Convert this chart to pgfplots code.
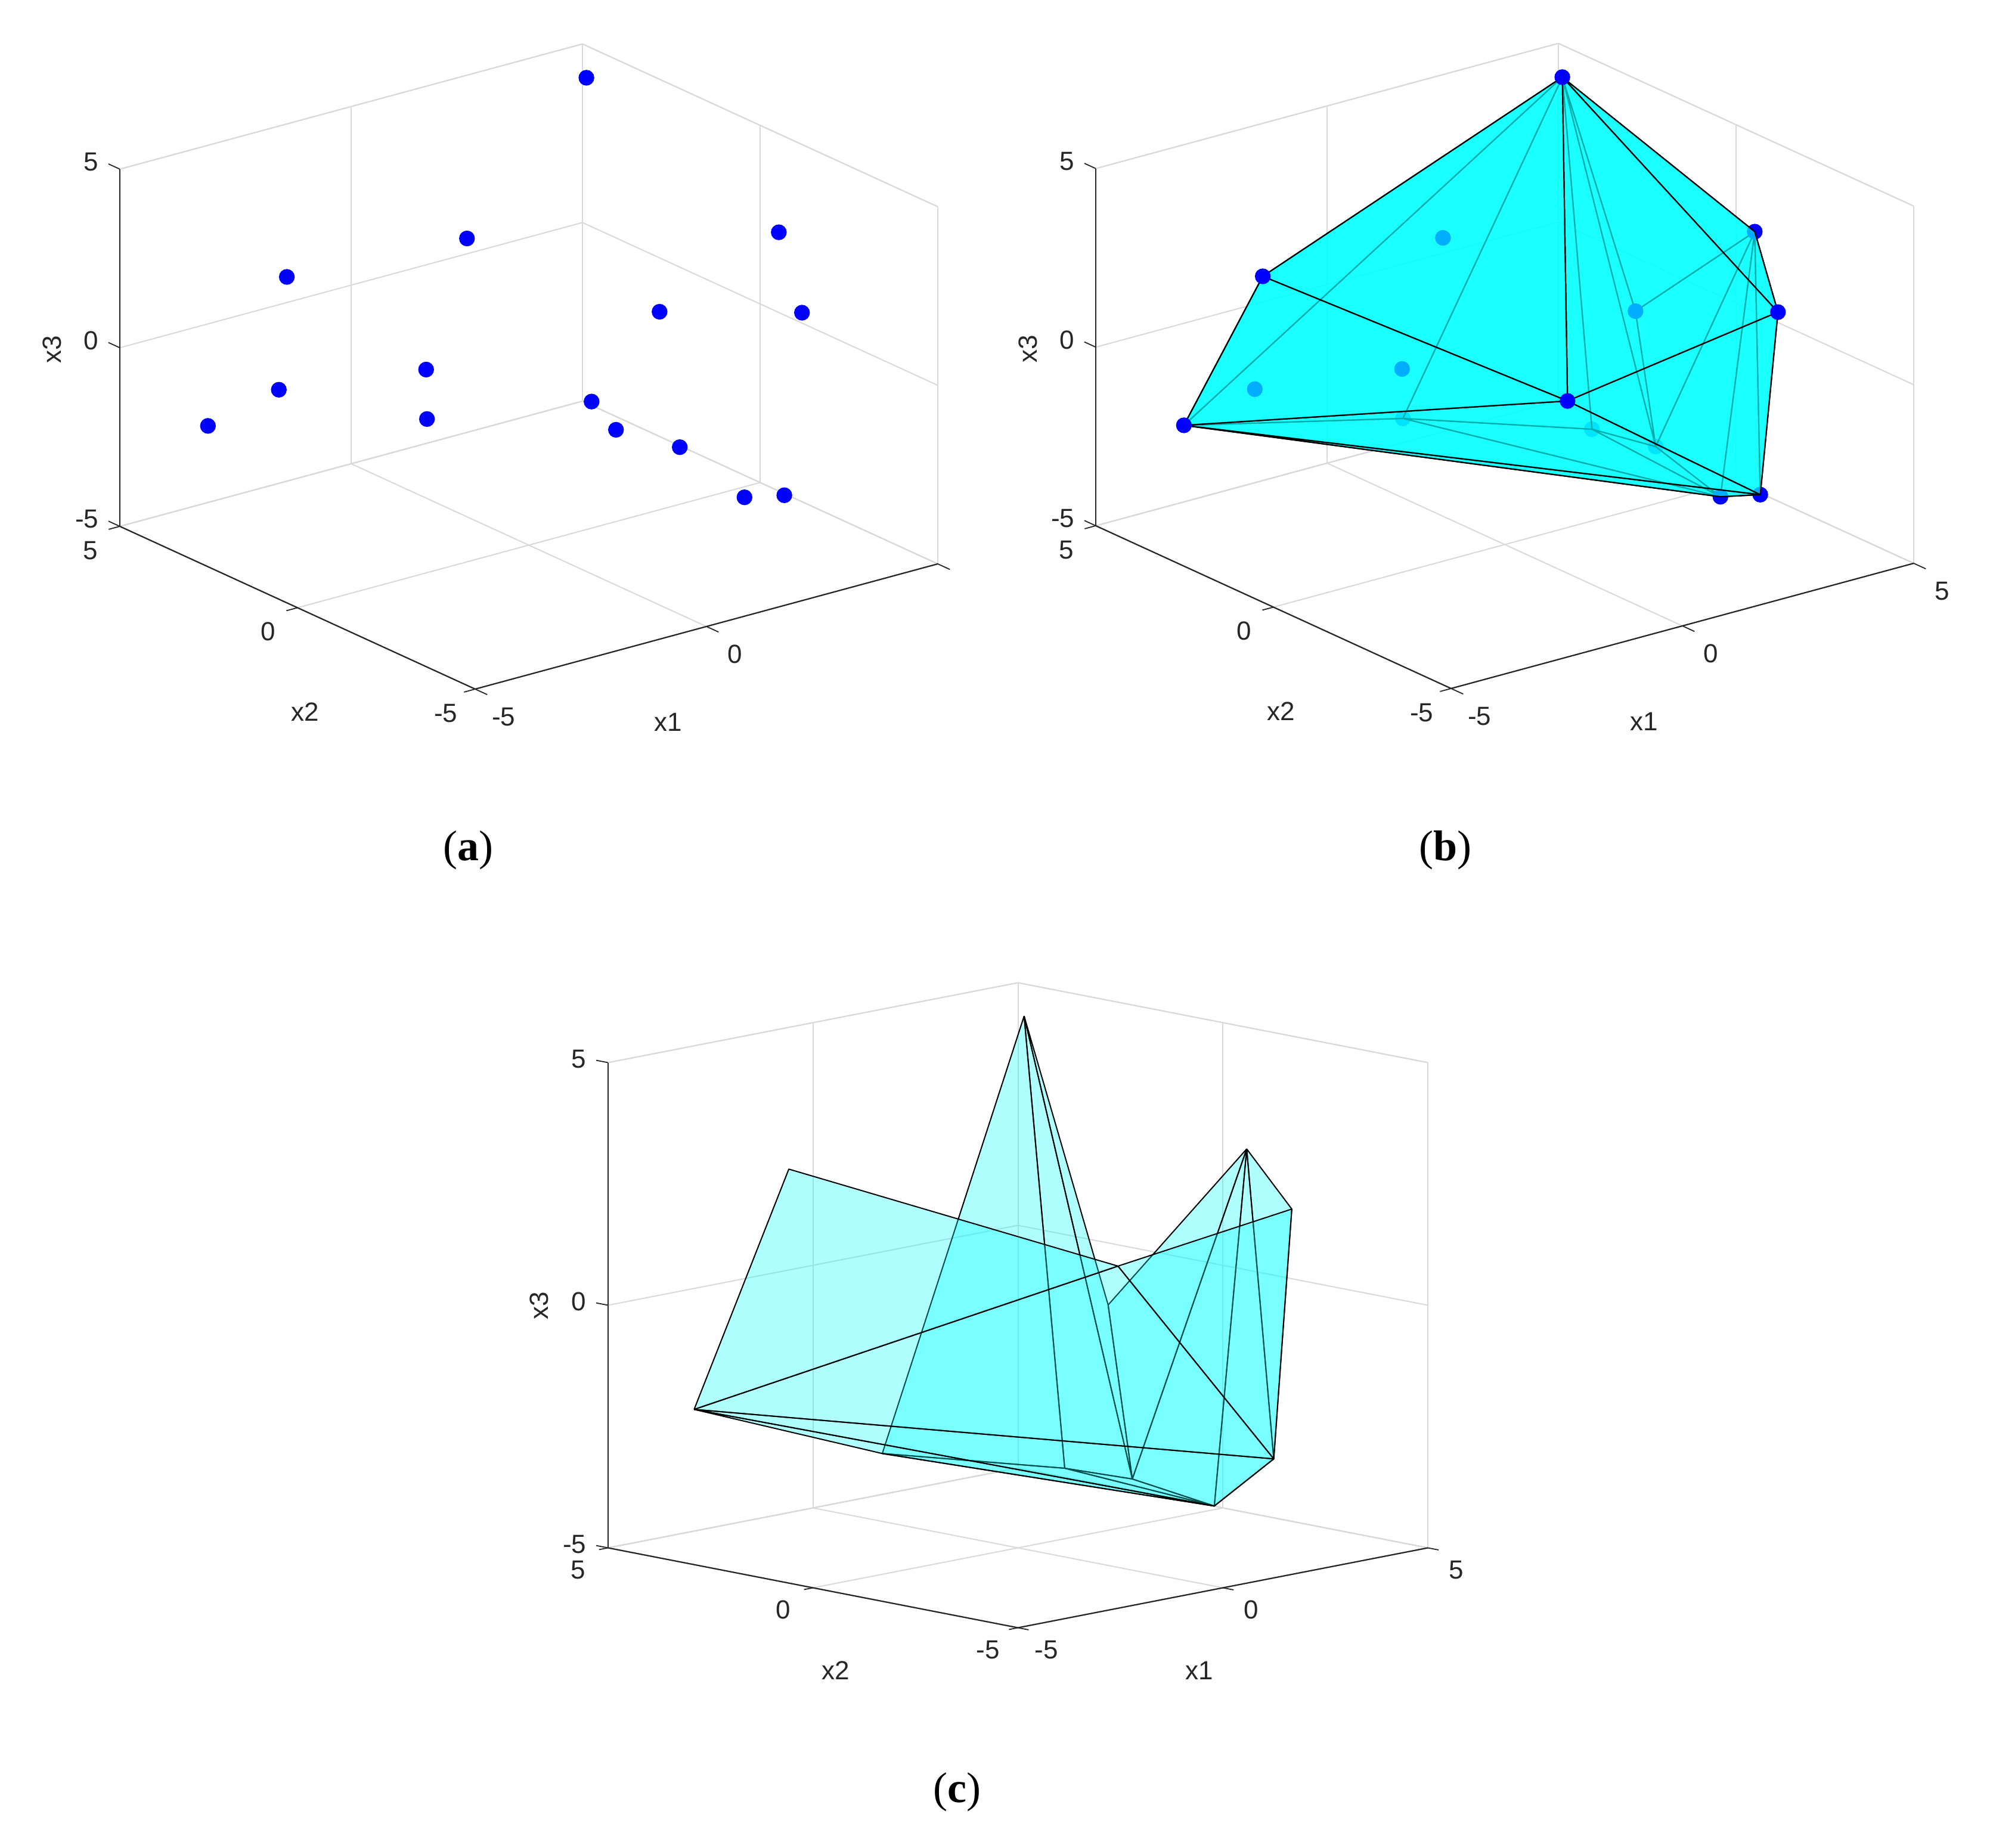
\documentclass[border=0pt]{standalone}
\usepackage{fontspec}
\setmainfont{Liberation Sans}
\newfontfamily\capfont{Liberation Serif}
\usepackage{pgfplots}
\usepackage{pgfplotstable}
\pgfplotsset{compat=1.18}
\definecolor{axdark}{RGB}{38,38,38}
\definecolor{gridl}{RGB}{217,217,217}

% points in the view of panels (a) and (b): x y z
\pgfplotstableread{
x y z
4.87 4.72 4.227
4.82 -0.76 2.415
3.34 -3.34 1.858
4.90 2.70 -1.414
0 1.74 2.792
-4.04 1.55 3.218
-2.5 3.78 -1.496
0 2.89 -1.402
-3.74 4.16 -2.247
1.47 4.78 -4.163
-2.23 -4.67 1.928
4.35 3.21 -4.758
4.83 2.04 -4.88
4.24 -0.55 -4.897
3.15 -3.09 -3.30
}\ptsAB
% panel (c)
\pgfplotstableread{
x y z
4.87 4.72 4.38
4.82 -0.76 2.552
3.34 -3.34 1.982
4.90 2.70 -1.245
-4.04 1.55 3.215
-3.74 4.16 -2.216
1.47 4.78 -4.085
-2.23 -4.67 1.942
4.35 3.21 -4.604
4.83 2.04 -4.712
4.24 -0.55 -4.745
3.15 -3.09 -3.176
}\ptsC

\pgfplotsset{
  matlabbox/.style={
    disabledatascaling, clip=false, clip mode=individual, anchor=origin,
    xmin=-5,xmax=5,ymin=-5,ymax=5,zmin=-5,zmax=5,
    xtick={-5,0,5},ytick={-5,0,5},ztick={-5,0,5},
    yticklabels={-5,0,5},zticklabels={-5,0,5},
    grid=major,
    grid style={gridl,line width=.5pt},
    axis line style={gridl,line width=.5pt},
    major tick length=0pt,
    tick style={draw=none},
    ticklabel style={font=\fontsize{11}{13}\selectfont,text=axdark},
    label style={font=\fontsize{11}{13}\selectfont,text=axdark},
    xlabel={x1},ylabel={x2},zlabel={x3},
    colormap={cy}{rgb255=(0,255,255) rgb255=(0,255,255)},
    point meta min=-100,point meta max=100,
  },
  viewab/.style={
    x={(19.4pt,5.25pt)},y={(-14.9pt,6.825pt)},z={(0pt,14.98pt)},
    xticklabel style={anchor=center,xshift=11.9pt,yshift=-11.7pt},
    yticklabel style={anchor=center,xshift=-12.3pt,yshift=-10.1pt},
    zticklabel style={anchor=east,xshift=-5.4pt,yshift=3pt},
    xlabel style={at={(axis cs:0,-5,-5)},anchor=center,xshift=-16pt,yshift=-40pt},
    ylabel style={at={(axis cs:-5,0,-5)},anchor=center,xshift=3.25pt,yshift=-43.75pt},
    zlabel style={at={(axis cs:-5,5,0)},anchor=center,rotate=0,xshift=-.75pt,yshift=28.5pt},
  },
  viewc/.style={
    x={(17.19pt,3.35pt)},y={(-17.19pt,3.35pt)},z={(0pt,20.35pt)},
    xticklabel style={anchor=center,xshift=11.9pt,yshift=-9.3pt},
    yticklabel style={anchor=center,xshift=-12.5pt,yshift=-9.3pt},
    zticklabel style={anchor=east,xshift=-5.6pt,yshift=1.5pt},
    xlabel style={at={(axis cs:0,-5,-5)},anchor=center,xshift=-10pt,yshift=-34.75pt},
    ylabel style={at={(axis cs:-5,0,-5)},anchor=center,xshift=9.5pt,yshift=-34.75pt},
    zlabel style={at={(axis cs:-5,5,0)},anchor=center,rotate=0,xshift=-.25pt,yshift=29pt},
  },
  hullb/.style={patch,patch type=triangle,shader=faceted,faceted color=black,
    point meta=x,fill opacity=0.68,line width=.55pt,table/row sep=\\},
  hullc/.style={patch,patch type=triangle,shader=faceted,faceted color=black,
    point meta=x,fill opacity=0.31,line width=.5pt,table/row sep=\\},
  dots/.style={only marks,mark=*,mark size=3.1pt,color=blue},
}
% the three outer axis edges with their short ticks; #1,#2,#3 are tick lengths in data units
\newcommand{\darkedges}[3]{%
  \draw[axdark,line width=.55pt] (axis cs:-5,-5,-5) -- (axis cs:5,-5,-5);
  \draw[axdark,line width=.55pt] (axis cs:-5,-5,-5) -- (axis cs:-5,5,-5);
  \draw[axdark,line width=.55pt] (axis cs:-5,5,-5) -- (axis cs:-5,5,5);
  \draw[axdark,line width=.45pt] (axis cs:-5,-5,-5) -- (axis cs:-5,-5-#1,-5);
  \draw[axdark,line width=.45pt] (axis cs:0,-5,-5) -- (axis cs:0,-5-#1,-5);
  \draw[axdark,line width=.45pt] (axis cs:5,-5,-5) -- (axis cs:5,-5-#1,-5);
  \draw[axdark,line width=.45pt] (axis cs:-5,-5,-5) -- (axis cs:-5-#2,-5,-5);
  \draw[axdark,line width=.45pt] (axis cs:-5,0,-5) -- (axis cs:-5-#2,0,-5);
  \draw[axdark,line width=.45pt] (axis cs:-5,5,-5) -- (axis cs:-5-#2,5,-5);
  \draw[axdark,line width=.45pt] (axis cs:-5,5,-5) -- (axis cs:-5,5+#3,-5);
  \draw[axdark,line width=.45pt] (axis cs:-5,5,0) -- (axis cs:-5,5+#3,0);
  \draw[axdark,line width=.45pt] (axis cs:-5,5,5) -- (axis cs:-5,5+#3,5);
}
\begin{document}
\begin{tikzpicture}
\path[use as bounding box] (0,0) rectangle (835.75pt,774.75pt);

% (a)
\begin{axis}[matlabbox,viewab,at={(221.75pt,621.04pt)},xticklabels={-5,0,}]
\addplot3[dots] table[x=x,y=y,z=z] {\ptsAB};
\darkedges{0.34}{0.24}{0.32}
\end{axis}
\node at (196.25pt,418.25pt) {\capfont\fontsize{18}{21}\selectfont(\textbf{a})};

% (b)
\begin{axis}[matlabbox,viewab,at={(631pt,621.29pt)},xticklabels={-5,0,5}]
\addplot3[dots] coordinates {(1.47,4.78,-4.163) (4.35,3.21,-4.758) (4.83,2.04,-4.88)};
\addplot3[hullb,patch table={0 5 8\\ 0 8 9\\ 0 9 11\\ 0 11 12\\ 0 12 3\\ 0 3 1\\ 3 12 1\\ 1 12 13\\ 1 13 14\\ 12 11 13\\ 11 9 13\\ 9 8 13\\ 2 14 1\\}] table[x=x,y=y,z=z] {\ptsAB};
\addplot3[dots] coordinates {(0,1.74,2.792) (0,2.89,-1.402) (-2.5,3.78,-1.496) (4.90,2.70,-1.414)
  (4.82,-0.76,2.415) (4.24,-0.55,-4.897) (3.15,-3.09,-3.30)};
\addplot3[hullb,patch table={0 5 10\\ 0 10 2\\ 0 2 1\\ 5 8 10\\ 8 14 10\\ 10 14 2\\ 8 13 14\\}] table[x=x,y=y,z=z] {\ptsAB};
\addplot3[dots] coordinates {(4.87,4.72,4.227) (-4.04,1.55,3.218) (-3.74,4.16,-2.247)
  (-2.23,-4.67,1.928) (3.34,-3.34,1.858)};
\darkedges{0.34}{0.24}{0.32}
\end{axis}
\node at (606pt,418.25pt) {\capfont\fontsize{18}{21}\selectfont(\textbf{b})};

% (c)
\begin{axis}[matlabbox,viewc,at={(426.875pt,227.375pt)},xticklabels={-5,0,5}]
\addplot3[hullc,patch table={3 9 0\\ 0 9 8\\ 0 8 6\\ 6 8 10\\ 8 9 10\\ 1 9 3\\ 1 10 9\\ 1 11 10\\ 2 11 1\\ 6 5 10\\}] table[x=x,y=y,z=z] {\ptsC};
\addplot3[hullc,patch table={5 10 11\\ 4 5 7\\ 5 7 11\\ 7 11 2\\}] table[x=x,y=y,z=z] {\ptsC};
\darkedges{0.26}{0.22}{0.29}
\end{axis}
\node at (401.3pt,23.25pt) {\capfont\fontsize{18}{21}\selectfont(\textbf{c})};
\end{tikzpicture}
\end{document}
